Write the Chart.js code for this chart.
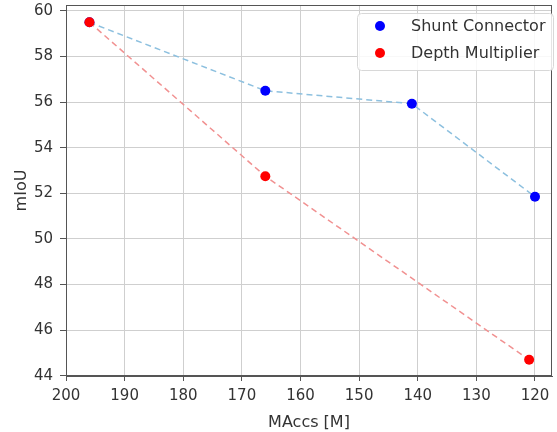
<!DOCTYPE html>
<html lang="en">
<head>
  <meta charset="UTF-8" />
  <title>mIoU vs MAccs</title>
  <script src="https://cdn.jsdelivr.net/npm/chart.js"></script>
  <style>
    html, body { margin: 0; padding: 0; background: #fff; }
    #wrap { width: 557px; height: 432px; position: relative; }
  </style>
</head>
<body>
  <div id="wrap"><canvas id="chart"></canvas></div>

  <script>
    // data
    const shuntMaccs = [196, 166, 141, 120];
    const shuntMiou = [59.5, 56.5, 55.93, 51.85];
    const depthMaccs = [196, 166, 121];
    const depthMiou = [59.5, 52.75, 44.7];
    const xTicks = [120, 130, 140, 150, 160, 170, 180, 190, 200];
    const yTicks = [44, 46, 48, 50, 52, 54, 56, 58, 60];

    const tickFont = { family: 'DejaVu Sans', size: 15 };
    const titleFont = { family: 'DejaVu Sans', size: 16 };

    // frame on all four sides + legend box inside the plot (matplotlib look)
    const frameAndLegend = {
      id: 'frameAndLegend',
      afterDraw(chart) {
        const { ctx, chartArea: a } = chart;
        ctx.save();
        ctx.strokeStyle = '#555';
        ctx.lineWidth = 1;
        ctx.strokeRect(a.left + 0.5, a.top + 0.5, a.right - a.left - 1, a.bottom - a.top - 1);

        // legend
        const x = 357, y = 13, w = 196, h = 57;
        ctx.fillStyle = 'rgba(255,255,255,0.85)';
        ctx.strokeStyle = '#d8d8d8';
        ctx.beginPath();
        ctx.roundRect(x + 0.5, y + 0.5, w, h, 4);
        ctx.fill();
        ctx.stroke();
        const items = chart.data.datasets.slice().sort((p, q) => p.legendIndex - q.legendIndex);
        ctx.font = '16px "DejaVu Sans"';
        ctx.textBaseline = 'middle';
        items.forEach((d, i) => {
          const cy = y + 13 + i * 27;
          ctx.fillStyle = d.pointBackgroundColor;
          ctx.beginPath();
          ctx.arc(x + 23, cy, 5, 0, Math.PI * 2);
          ctx.fill();
          ctx.fillStyle = '#333';
          ctx.fillText(d.label, x + 54, cy + 1);
        });
        ctx.restore();
      }
    };

    new Chart(document.getElementById('chart'), {
      type: 'line',
      data: {
        datasets: [
          {
            label: 'Shunt Connector',
            legendIndex: 0,
            order: 2,
            data: shuntMaccs.map((m, i) => ({ x: m, y: shuntMiou[i] })),
            borderColor: '#8dc0df',
            borderWidth: 1.5,
            borderDash: [6, 4],
            pointBackgroundColor: '#0000ff',
            pointBorderColor: '#0000ff',
            pointRadius: 5,
            pointBorderWidth: 0,
            fill: false,
            tension: 0
          },
          {
            label: 'Depth Multiplier',
            legendIndex: 1,
            order: 1,
            data: depthMaccs.map((m, i) => ({ x: m, y: depthMiou[i] })),
            borderColor: '#f19191',
            borderWidth: 1.5,
            borderDash: [6, 4],
            pointBackgroundColor: '#ff0000',
            pointBorderColor: '#ff0000',
            pointRadius: 5,
            pointBorderWidth: 0,
            fill: false,
            tension: 0
          }
        ]
      },
      options: {
        responsive: true,
        maintainAspectRatio: false,
        animation: false,
        layout: { padding: { left: 0, right: 2, top: 4, bottom: 0 } },
        plugins: { legend: { display: false }, tooltip: { enabled: false } },
        scales: {
          x: {
            type: 'linear',
            reverse: true,
            min: 117.1,
            max: 200,
            afterBuildTicks: axis => { axis.ticks = xTicks.map(v => ({ value: v })); },
            afterFit: axis => { axis.height = 56; axis.paddingLeft = 0; axis.paddingRight = 0; },
            grid: { color: '#cfcfcf', tickColor: '#555', tickLength: 5, lineWidth: 1 },
            border: { color: '#555' },
            ticks: { color: '#333', font: tickFont, padding: 6, maxRotation: 0 },
            title: { display: true, text: 'MAccs [M]', color: '#333', font: titleFont, padding: { top: 0, bottom: 0 } }
          },
          y: {
            min: 43.99,
            max: 60.26,
            afterBuildTicks: axis => { axis.ticks = yTicks.map(v => ({ value: v })); },
            afterFit: axis => { axis.width = 66; axis.paddingTop = 0; axis.paddingBottom = 0; },
            grid: { color: '#cfcfcf', tickColor: '#555', tickLength: 6, lineWidth: 1 },
            border: { color: '#555' },
            ticks: { color: '#333', font: tickFont, padding: 7 },
            title: { display: true, text: 'mIoU', color: '#333', font: titleFont, padding: { top: 12, bottom: 0 } }
          }
        }
      },
      plugins: [frameAndLegend]
    });
  </script>
</body>
</html>
